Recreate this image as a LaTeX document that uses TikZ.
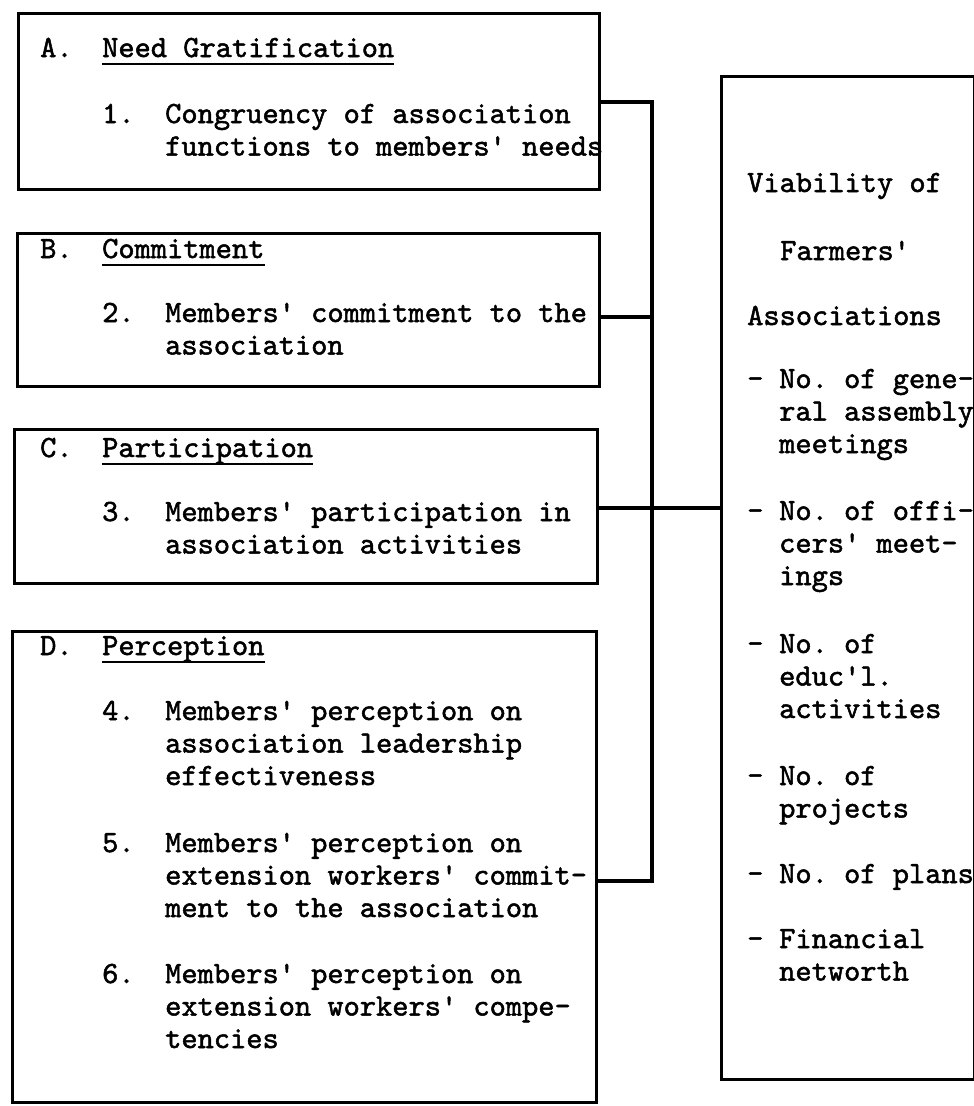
\documentclass[tikz,border=0pt]{standalone}
\usepackage{fontspec}
\setmonofont{lmmono10-regular.otf}[FakeBold=1.6]
\tikzset{
  box/.style={draw, line width=3pt, minimum width=#1, anchor=north west, inner sep=0pt},
  wire/.style={line width=4.5pt, line join=miter},
  txt/.style={font=\ttfamily\fontsize{30.9}{32.5}\selectfont, inner sep=0pt, anchor=base west, align=left},
  nl/.style={yshift={-(#1-1)*32.5pt}},
  uline/.style={line width=2pt}
}
\begin{document}
\begin{tikzpicture}[x=1pt,y=-1pt]
  \useasboundingbox (0,0) rectangle (974,1106);

  \node[box=581pt, minimum height=176pt] (boxA) at (17,12) {};
  \node[box=582pt, minimum height=153pt] (boxB) at (16,232) {};
  \node[box=583pt, minimum height=154pt] (boxC) at (13,428) {};
  \node[box=584pt, minimum height=471pt] (boxD) at (11,630) {};
  \node[box=253pt, minimum height=1003pt] (vbox) at (720,75) {};

  % left column
  \node[txt] (lA) at (40,57) {A.};
  \node[txt] (hA) at (102,57) {Need Gratification};
  \node[txt] (n1) at (102,123) {1.};
  \node[txt, nl=2] (t1) at (165,123) {Congruency of association\\functions to members' needs};

  \node[txt] (lB) at (40,258) {B.};
  \node[txt] (hB) at (102,258) {Commitment};
  \node[txt] (n2) at (102,322) {2.};
  \node[txt, nl=2] (t2) at (165,322) {Members' commitment to the\\association};

  \node[txt] (lC) at (40,457) {C.};
  \node[txt] (hC) at (102,457) {Participation};
  \node[txt] (n3) at (102,521) {3.};
  \node[txt, nl=2] (t3) at (165,521) {Members' participation in\\association activities};

  \node[txt] (lD) at (40,655) {D.};
  \node[txt] (hD) at (102,655) {Perception};
  \node[txt] (n4) at (102,720) {4.};
  \node[txt, nl=3] (t4) at (165,720) {Members' perception on\\association leadership\\effectiveness};
  \node[txt] (n5) at (102,852) {5.};
  \node[txt, nl=3] (t5) at (165,852) {Members' perception on\\extension workers' commit-\\ment to the association};
  \node[txt] (n6) at (102,983) {6.};
  \node[txt, nl=3] (t6) at (165,983) {Members' perception on\\extension workers' compe-\\tencies};

  \foreach \h in {hA,hB,hC,hD}
    \draw[uline] ([yshift=-7pt]\h.base west) -- ([yshift=-7pt]\h.base east);

  % right column
  \node[txt] (v1) at (747,192) {Viability of};
  \node[txt] (v2) at (780,260) {Farmers'};
  \node[txt] (v3) at (747,325) {Associations};
  \node[txt] (d1) at (747,388) {-};
  \node[txt, nl=3] (i1) at (779,388) {No. of gene-\\ral assembly\\meetings};
  \node[txt] (d2) at (747,520) {-};
  \node[txt, nl=3] (i2) at (779,520) {No. of offi-\\cers' meet-\\ings};
  \node[txt] (d3) at (747,653) {-};
  \node[txt, nl=3] (i3) at (779,653) {No. of\\educ'l.\\activities};
  \node[txt] (d4) at (747,785) {-};
  \node[txt, nl=2] (i4) at (779,785) {No. of\\projects};
  \node[txt] (d5) at (747,883) {-};
  \node[txt] (i5) at (779,883) {No. of plans};
  \node[txt] (d6) at (747,948) {-};
  \node[txt, nl=2] (i6) at (779,948) {Financial\\networth};

  % connectors
  \coordinate (jA) at (652,102);
  \coordinate (jB) at (652,317);
  \coordinate (jC) at (652,508);
  \coordinate (jD) at (652,881);
  \draw[wire] (boxA.east |- jA) -- (jA) -- (jD) -- (boxD.east |- jD);
  \draw[wire] (boxB.east |- jB) -- (jB);
  \draw[wire] (boxC.east |- jC) -- (vbox.west |- jC);
\end{tikzpicture}
\end{document}
